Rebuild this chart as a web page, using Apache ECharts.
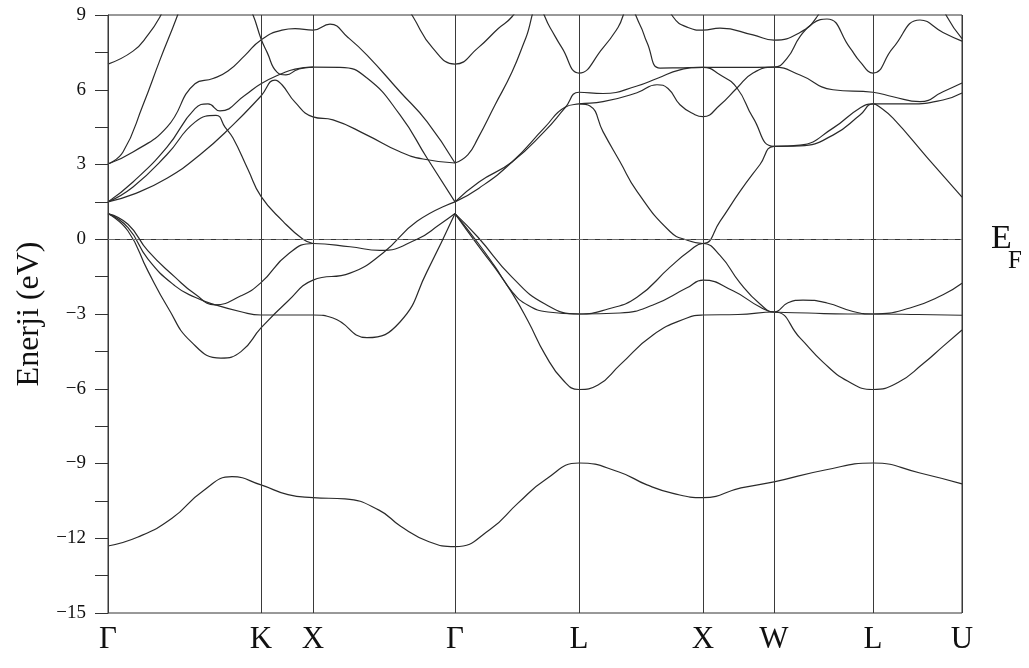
<!DOCTYPE html>
<html>
<head>
<meta charset="utf-8">
<script src="https://cdn.jsdelivr.net/npm/echarts@6/dist/echarts.min.js"></script>
<style>
html,body{margin:0;padding:0;background:#fff;}
#chart{width:1029px;height:668px;}
</style>
</head>
<body>
<div id="chart"></div>
<script>
// ---- k-path (high-symmetry points) ----
const kPos = [0, 153, 205, 347, 471, 595, 666, 765, 854];
const kLabels = ['Γ', 'K', 'X', 'Γ', 'L', 'X', 'W', 'L', 'U'];
const energyMin = -15, energyMax = 9, energyStep = 3;
const fermiLevel = 0;

// ---- bands: [k, E(eV)] ----
const bandLowest = [[0,-12.31],[30,-11.95],[64,-11.2],[95,-10.1],[124,-9.53],[153,-9.86],[180,-10.25],[205,-10.37],[237,-10.42],[271,-10.87],[293,-11.53],[321,-12.14],[347,-12.34],[382,-11.65],[410,-10.59],[438,-9.63],[471,-8.98],[511,-9.34],[539,-9.86],[565,-10.2],[595,-10.37],[633,-9.98],[666,-9.74],[717,-9.26],[765,-8.98],[812,-9.38],[854,-9.82]];

const valA = [[0,1.03],[20,0.33],[40,-1.28],[60,-2.75],[83,-4.11],[113,-4.77],[133,-4.51],[153,-3.56],[180,-2.48],[205,-1.64],[242,-1.36],[275,-0.55],[309,0.72],[347,1.5]];
const valB = [[0,1.03],[20,0.6],[40,-0.47],[67,-1.52],[87,-2.2],[107,-2.63],[133,-2.27],[153,-1.74],[180,-0.6],[205,-0.17],[242,-0.3],[272,-0.45],[309,0.0],[332,0.6],[347,1.03]];
const valC = [[0,1.03],[20,0.47],[40,-0.8],[67,-1.87],[87,-2.33],[107,-2.63],[133,-2.91],[153,-3.04],[180,-3.04],[205,-3.04],[225,-3.16],[259,-3.95],[292,-3.32],[319,-1.3],[347,1.03]];

const valS1 = [[347,1.03],[370,0.08],[404,-1.52],[437,-2.6],[471,-3.0],[500,-2.8],[529,-2.33],[562,-1.12],[582,-0.45],[595,-0.17],[612,-0.65],[632,-1.75],[652,-2.6],[666,-2.92],[680,-2.55],[695,-2.44],[719,-2.56],[745,-2.9],[765,-3.0],[802,-2.76],[835,-2.23],[854,-1.77]];
const valS2 = [[347,1.03],[370,-0.15],[387,-1.1],[404,-2.1],[420,-2.65],[440,-2.92],[471,-3.0],[512,-2.96],[545,-2.64],[579,-1.95],[595,-1.64],[625,-2.07],[652,-2.72],[666,-2.92],[700,-2.96],[740,-3.0],[765,-3.0],[810,-3.02],[854,-3.05]];
const valS3 = [[347,1.03],[370,-0.25],[387,-1.15],[404,-2.15],[420,-3.28],[437,-4.62],[455,-5.65],[471,-6.03],[490,-5.85],[512,-5.04],[545,-3.84],[579,-3.16],[595,-3.04],[630,-3.02],[666,-2.92],[692,-3.96],[715,-4.93],[740,-5.7],[765,-6.03],[790,-5.75],[815,-5.0],[835,-4.3],[854,-3.64]];

const conD = [[0,1.5],[25,2.3],[59,3.7],[87,5.24],[100,5.43],[112,5.15],[137,5.78],[153,6.24],[174,6.65],[187,6.83],[205,6.91]];
const conE = [[0,1.5],[25,2.1],[59,3.4],[87,4.7],[108,4.97],[117,4.5],[125,4.06],[140,2.8],[153,1.72],[175,0.72],[195,0.0],[205,-0.17]];
const conF = [[0,1.5],[25,1.8],[59,2.45],[92,3.39],[125,4.59],[153,5.75],[167,6.39],[174,6.2],[187,5.5],[205,4.91],[225,4.79],[259,4.18],[292,3.51],[315,3.22],[347,3.06]];
const conG = [[0,3.02],[15,3.5],[35,5.39],[52,7.2],[69,8.93],[80,10.2]];
const conH = [[0,3.02],[25,3.5],[59,4.5],[87,6.24],[105,6.45],[120,6.75],[137,7.38],[153,8.0],[174,8.39],[187,8.45],[205,8.39],[222,8.63],[240,8.1],[259,7.39],[292,5.92],[319,4.72],[347,3.06]];
const conI = [[0,7.03],[25,7.55],[40,8.2],[52,8.93],[62,9.8],[100,11],[135,9.8],[145,9.0],[153,8.05],[159,7.51],[169,6.71],[178,6.6],[190,6.82],[205,6.91],[232,6.9],[259,6.47],[292,4.99],[319,3.26],[347,1.5]];
const conTop1 = [[285,10.3],[305,8.93],[325,7.66],[347,7.03],[370,7.68],[390,8.45],[404,8.93],[418,9.8]];
const conM = [[347,3.06],[360,3.4],[370,4.06],[387,5.39],[404,6.71],[418,8.1],[430,9.3],[442,8.5],[454,7.68],[471,6.67],[495,7.68],[510,8.5],[521,9.3],[532,8.6],[539,7.9],[552,6.87],[570,6.88],[595,6.9],[630,6.9],[666,6.91],[679,7.26],[692,8.13],[705,8.67],[719,8.84],[742,7.68],[752,7.13],[765,6.67],[785,7.68],[812,8.8],[835,8.3],[854,7.95]];
const conJ = [[347,1.5],[371,2.3],[404,3.1],[437,4.35],[457,5.27],[471,5.9],[495,5.85],[529,6.15],[549,6.45],[572,6.8],[595,6.9],[612,6.6],[629,6.07],[645,4.88],[666,3.73],[692,3.78],[725,4.46],[752,5.27],[765,5.43],[802,5.43],[835,5.59],[854,5.87]];
const conK = [[347,1.5],[371,2.05],[404,3.1],[437,4.5],[457,5.3],[471,5.43],[495,5.52],[529,5.88],[549,6.2],[560,6.05],[572,5.4],[587,5.0],[595,4.92],[612,5.39],[629,6.07],[645,6.67],[666,6.91],[692,6.59],[725,6.0],[765,5.9],[785,5.72],[812,5.52],[835,5.92],[854,6.27]];
const conN = [[471,5.43],[482,5.35],[495,4.32],[512,3.11],[529,1.92],[562,0.31],[580,-0.05],[595,-0.17],[612,0.72],[632,1.92],[652,3.0],[666,3.73],[692,3.75],[725,4.18],[752,4.99],[765,5.43],[772,5.3],[785,4.86],[819,3.29],[854,1.69]];
const conTop2 = [[550,10.2],[565,8.93],[580,8.5],[595,8.39],[612,8.47],[645,8.2],[666,7.99],[692,8.3],[709,8.93],[722,10.0]];
const conTop3 = [[825,10.2],[839,8.93],[854,8.05]];

const allBands = [bandLowest, valA, valB, valC, valS1, valS2, valS3,
  conD, conE, conF, conG, conH, conI, conTop1, conM, conJ, conK, conN, conTop2, conTop3];

const serif = '"Liberation Serif", "DejaVu Serif", serif';
const chart = echarts.init(document.getElementById('chart'), null, {renderer: 'canvas'});

const series = allBands.map((b, i) => ({
  type: 'line',
  data: b,
  smooth: 0.5,
  showSymbol: false,
  symbol: 'none',
  clip: true,
  silent: true,
  lineStyle: {color: '#2a2a2a', width: 1.2},
  z: 3
}));
series[0].markLine = {
  silent: true,
  symbol: ['none', 'none'],
  label: {show: false},
  animation: false,
  data: kPos.map(k => ({xAxis: k, lineStyle: {color: '#3a3a3a', width: 1, type: 'solid'}}))
    .concat([{yAxis: fermiLevel, lineStyle: {color: '#6e6e6e', width: 1, type: [7, 5]}}])
};

const option = {
  animation: false,
  backgroundColor: '#fff',
  grid: {left: 108, right: 67, top: 15, bottom: 55, show: true, borderColor: '#333', borderWidth: 1},
  xAxis: {
    type: 'value', min: kPos[0], max: kPos[kPos.length - 1],
    axisLine: {show: true, lineStyle: {color: '#333', width: 1}},
    axisTick: {show: false},
    splitLine: {show: false},
    axisLabel: {
      customValues: kPos,
      formatter: v => { const i = kPos.indexOf(v); return i >= 0 ? kLabels[i] : ''; },
      fontFamily: serif, fontSize: 31, color: '#111', margin: 11
    }
  },
  yAxis: {
    type: 'value', min: energyMin, max: energyMax, interval: energyStep,
    name: 'Enerji (eV)', nameLocation: 'middle', nameGap: 58, nameRotate: 90,
    nameTextStyle: {fontFamily: serif, fontSize: 32, color: '#111'},
    axisLine: {show: true, lineStyle: {color: '#333', width: 1}},
    axisTick: {show: true, inside: false, length: 13, lineStyle: {color: '#333'}},
    minorTick: {show: true, splitNumber: 2, length: 13, lineStyle: {color: '#333'}},
    splitLine: {show: false},
    axisLabel: {
      formatter: v => String(v).replace('-', '\u2212'),
      fontFamily: serif, fontSize: 19, color: '#111', margin: 22
    }
  },
  series: series
};
chart.setOption(option);

const y0 = chart.convertToPixel({yAxisIndex: 0}, fermiLevel);
const xr = chart.convertToPixel({xAxisIndex: 0}, kPos[kPos.length - 1]);
chart.setOption({
  graphic: [
    {type: 'text', left: xr + 29, top: y0 - 17, style: {text: 'E', font: '34px ' + serif, fill: '#111'}},
    {type: 'text', left: xr + 46, top: y0 + 10, style: {text: 'F', font: '25px ' + serif, fill: '#111'}}
  ]
});
</script>
</body>
</html>
